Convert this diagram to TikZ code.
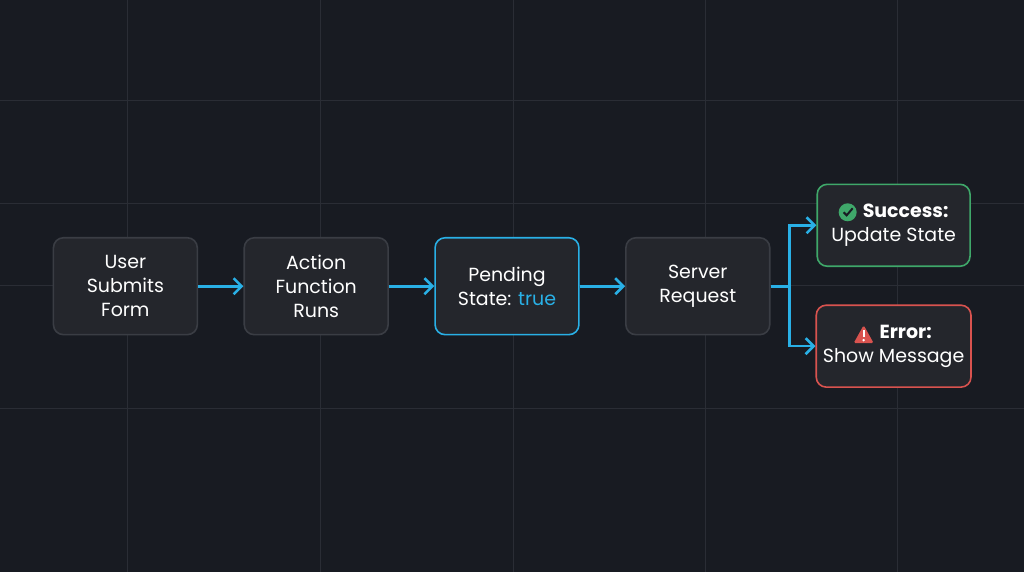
\documentclass[tikz,border=0pt]{standalone}
\usepackage{fontspec}
\setmainfont{Poppins}
\usetikzlibrary{arrows.meta}
\definecolor{BgColor}{HTML}{181B22}
\definecolor{GridColor}{HTML}{2A2D35}
\definecolor{BoxColor}{HTML}{24262C}
\definecolor{BoxLine}{HTML}{3A3D44}
\definecolor{FlowColor}{HTML}{29B0E6}
\definecolor{OkColor}{HTML}{3FA86A}
\definecolor{ErrColor}{HTML}{D9534F}
\tikzstyle{step-base}=[rectangle,
                       rounded corners=5pt,
                       text centered,
                       text=white,
                       fill=BoxColor,
                       line width=0.8pt,
                       font=\fontsize{9.5}{12}\selectfont,
                       align=center,
                      ]
\tikzstyle{flow-step}=[step-base, draw=BoxLine, minimum width=72pt, minimum height=48.5pt]
\tikzstyle{outcome}=[step-base, minimum width=76.5pt, minimum height=41pt]
\tikzstyle{flow}=[draw=FlowColor, line width=1.3pt, -{Straight Barb[length=4pt,width=8pt]}]

\begin{document}
\begin{tikzpicture}[x=0.5pt,y=-0.5pt]
\fill[BgColor] (0,0) rectangle (1024,572);
\foreach \gx in {127,320,513,706,898} \draw[GridColor, line width=0.5pt] (\gx,0) -- (\gx,572);
\foreach \gy in {100,203,285,408} \draw[GridColor, line width=0.5pt] (0,\gy) -- (1024,\gy);

\node at (125, 286) (user_step)    [flow-step] {User\\Submits\\Form};
\node at (316, 286) (action_step)  [flow-step] {Action\\Function\\Runs};
\node at (507, 286) (pending_step) [flow-step, draw=FlowColor] {Pending\\State: \textcolor{FlowColor}{true}};
\node at (698, 286) (server_step)  [flow-step] {Server\\Request};
\node at (894, 225) (success_step) [outcome, draw=OkColor] {\hspace{12pt}\textbf{Success:}\\Update State};
\node at (894, 346) (error_step)   [outcome, draw=ErrColor] {\hspace{12pt}\textbf{Error:}\\Show Message};

% icons
\fill[OkColor] (848, 212) circle (4.5pt);
\draw[BgColor, line width=1pt] (844, 212) -- (847, 215) -- (853, 208);
\fill[ErrColor, rounded corners=0.8pt] (854, 343) -- (874, 343) -- (864, 325) -- cycle;
\fill[white] (863, 330) rectangle (865, 337);
\fill[white] (864, 340) circle (0.7pt);

\coordinate (fork) at (790, 286);

\draw[flow] (user_step) -- (action_step);
\draw[flow] (action_step) -- (pending_step);
\draw[flow] (pending_step) -- (server_step);
\draw[flow, -] (server_step) -- (fork);
\draw[flow] (fork) |- (success_step);
\draw[flow] (fork) |- (error_step);
\end{tikzpicture}
\end{document}
